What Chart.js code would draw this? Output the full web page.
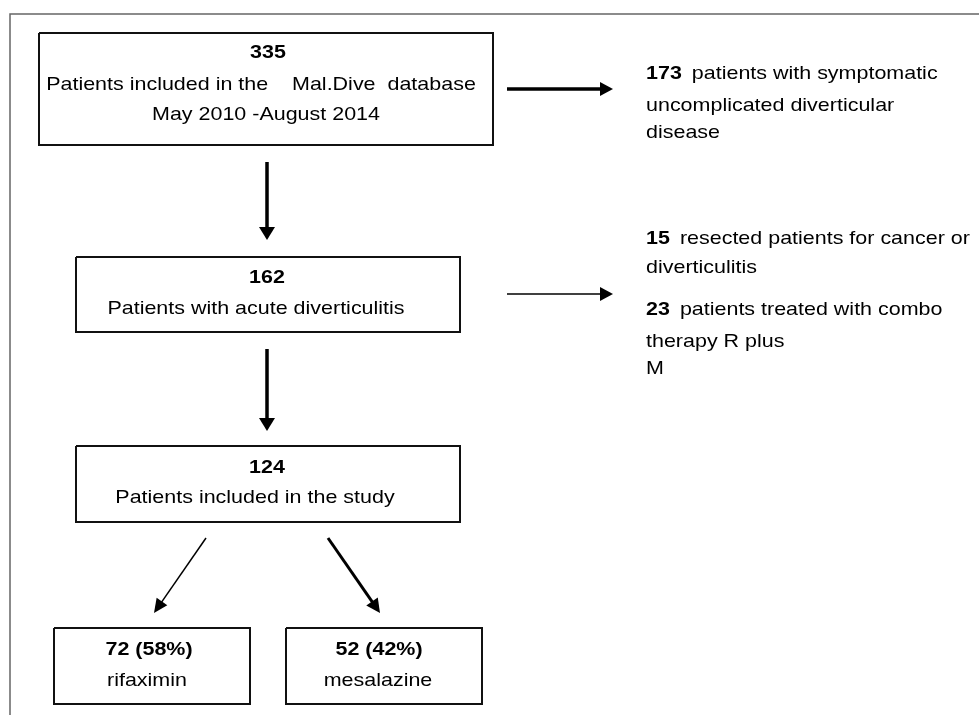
<!DOCTYPE html>
<html>
<head>
<meta charset="utf-8">
<script src="https://cdn.jsdelivr.net/npm/chart.js@4"></script>
<style>
  html, body { margin: 0; padding: 0; background: #fff; }
  #flow { display: block; }
</style>
</head>
<body>
<canvas id="flow" width="979" height="715"></canvas>
<script>
// ---- data ----
var stageCounts = [335, 162, 124];
var stageLines = [
    ['Patients included in the    Mal.Dive  database', 'May 2010 -August 2014'],
    ['Patients with acute diverticulitis'],
    ['Patients included in the study']
];
var excludedCounts = [173, 15, 23];
var excludedLines = [
    ['patients with symptomatic', 'uncomplicated diverticular', 'disease'],
    ['resected patients for cancer or', 'diverticulitis'],
    ['patients treated with combo', 'therapy R plus', 'M']
];
var armCounts = [72, 52];
var armShares = [58, 42];
var armDrugs = ['rifaximin', 'mesalazine'];

// ---- layout (in scale units, 1 unit = 1 px) ----
var stageBoxes = [[39, 33, 493, 145], [76, 257, 460, 332], [76, 446, 460, 522]];
var stageRows = [[53, 85, 115], [278, 309], [468, 498]];
var stageTextX = [[268, 261, 266], [267, 256], [267, 255]];
var excludedRows = [[74, 106, 133], [239, 268], [310, 342, 369]];
var excludedX = 646;
var armBoxes = [[54, 628, 250, 704], [286, 628, 482, 704]];
var armRows = [650, 681];
var armTextX = [[149, 147], [379, 378]];
// from, to, shaft width, head length, head width
var arrows = [
    [[267, 162], [267, 240], 3.5, 13, 16],
    [[267, 349], [267, 431], 3.5, 13, 16],
    [[507, 89], [613, 89], 3.5, 13, 14],
    [[507, 294], [613, 294], 1.5, 13, 14],
    [[206, 538], [154, 613], 1.5, 14, 13],
    [[328, 538], [380, 613], 3, 14, 14]
];

var FONT = "'Liberation Sans', Arial, sans-serif";
var FONT_SIZE = 19;
var STRETCH = 1.13; // text in the figure is a bit wider than Arial

function rectPoints(b) {
    return [{x: b[0], y: b[1]}, {x: b[2], y: b[1]}, {x: b[2], y: b[3]}, {x: b[0], y: b[3]}, {x: b[0], y: b[1]}];
}

var datasets = [];
// outer frame (top and left edges only)
datasets.push({
    data: [{x: 10, y: 715}, {x: 10, y: 14}, {x: 979, y: 14}],
    borderColor: '#666', borderWidth: 1.5
});
stageBoxes.concat(armBoxes).forEach(function (b) {
    datasets.push({ data: rectPoints(b), borderColor: '#111', borderWidth: 2 });
});
arrows.forEach(function (a) {
    var dx = a[1][0] - a[0][0], dy = a[1][1] - a[0][1];
    var len = Math.sqrt(dx * dx + dy * dy);
    var base = {x: a[1][0] - dx / len * (a[3] - 1), y: a[1][1] - dy / len * (a[3] - 1)};
    datasets.push({
        data: [{x: a[0][0], y: a[0][1]}, base],
        borderColor: '#000', borderWidth: a[2],
        arrowTip: {x: a[1][0], y: a[1][1]}, arrowLen: a[3], arrowWidth: a[4]
    });
});
datasets.forEach(function (d) {
    d.showLine = true;
    d.pointRadius = 0;
    d.tension = 0;
    d.fill = false;
    d.clip = false;
    d.borderJoinStyle = 'miter';
    d.borderCapStyle = 'butt';
});

function drawText(ctx, str, x, y, align, bold) {
    ctx.save();
    ctx.font = (bold ? 'bold ' : '') + FONT_SIZE + 'px ' + FONT;
    ctx.textAlign = align;
    ctx.textBaseline = 'middle';
    ctx.fillStyle = '#000';
    ctx.translate(x, y);
    ctx.scale(STRETCH, 1);
    ctx.fillText(str, 0, 0);
    ctx.restore();
}

function textWidth(ctx, str, bold) {
    ctx.save();
    ctx.font = (bold ? 'bold ' : '') + FONT_SIZE + 'px ' + FONT;
    var w = ctx.measureText(str).width * STRETCH;
    ctx.restore();
    return w;
}

var flowPlugin = {
    id: 'flowPlugin',
    beforeDraw: function (chart) {
        var ctx = chart.ctx;
        ctx.save();
        ctx.fillStyle = '#fff';
        ctx.fillRect(0, 0, chart.width, chart.height);
        ctx.restore();
    },
    afterDatasetsDraw: function (chart) {
        var ctx = chart.ctx;
        var sx = chart.scales.x, sy = chart.scales.y;
        var px = function (v) { return sx.getPixelForValue(v); };
        var py = function (v) { return sy.getPixelForValue(v); };

        // arrow heads
        chart.data.datasets.forEach(function (d) {
            if (!d.arrowTip) return;
            var start = d.data[0];
            var tx = px(d.arrowTip.x), ty = py(d.arrowTip.y);
            var ang = Math.atan2(ty - py(start.y), tx - px(start.x));
            ctx.save();
            ctx.translate(tx, ty);
            ctx.rotate(ang);
            ctx.beginPath();
            ctx.moveTo(0, 0);
            ctx.lineTo(-d.arrowLen, -d.arrowWidth / 2);
            ctx.lineTo(-d.arrowLen, d.arrowWidth / 2);
            ctx.closePath();
            ctx.fillStyle = '#000';
            ctx.fill();
            ctx.restore();
        });

        // stage boxes
        stageCounts.forEach(function (n, i) {
            drawText(ctx, String(n), px(stageTextX[i][0]), py(stageRows[i][0]), 'center', true);
            stageLines[i].forEach(function (line, j) {
                drawText(ctx, line, px(stageTextX[i][j + 1]), py(stageRows[i][j + 1]), 'center', false);
            });
        });

        // excluded patients
        excludedCounts.forEach(function (n, i) {
            var rows = excludedRows[i];
            var num = String(n);
            drawText(ctx, num, px(excludedX), py(rows[0]), 'left', true);
            var off = textWidth(ctx, num, true) + 10;
            drawText(ctx, excludedLines[i][0], px(excludedX) + off, py(rows[0]), 'left', false);
            for (var j = 1; j < excludedLines[i].length; j++) {
                drawText(ctx, excludedLines[i][j], px(excludedX), py(rows[j]), 'left', false);
            }
        });

        // treatment arms
        armCounts.forEach(function (n, i) {
            drawText(ctx, n + ' (' + armShares[i] + '%)', px(armTextX[i][0]), py(armRows[0]), 'center', true);
            drawText(ctx, armDrugs[i], px(armTextX[i][1]), py(armRows[1]), 'center', false);
        });
    }
};

var ctx = document.getElementById('flow').getContext('2d');
var flowChart = new Chart(ctx, {
    type: 'scatter',
    data: { datasets: datasets },
    options: {
        responsive: false,
        animation: false,
        events: [],
        layout: { padding: 0 },
        plugins: { legend: { display: false }, tooltip: { enabled: false } },
        scales: {
            x: { type: 'linear', min: 0, max: 979, display: false },
            y: { type: 'linear', min: 0, max: 715, reverse: true, display: false }
        }
    },
    plugins: [flowPlugin]
});
</script>
</body>
</html>
